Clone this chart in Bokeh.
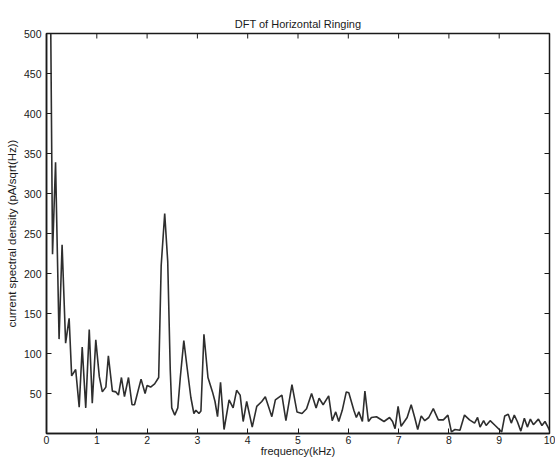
import math
from bokeh.plotting import figure
from bokeh.models import Range1d, FixedTicker
from bokeh.embed import file_html
from bokeh.resources import INLINE

# frequency (kHz) and current spectral density (pA/sqrt(Hz))
freq = [0.0, 0.06, 0.12, 0.18, 0.25, 0.31, 0.38, 0.45, 0.50, 0.58, 0.65, 0.71, 0.78,
        0.85, 0.91, 0.98, 1.05, 1.11, 1.18, 1.23, 1.31, 1.38, 1.43, 1.49, 1.55, 1.63,
        1.70, 1.75, 1.88, 1.96, 2.00, 2.07, 2.15, 2.23, 2.28, 2.35, 2.41, 2.46, 2.49,
        2.55, 2.61, 2.66, 2.73, 2.80, 2.87, 2.93, 2.97, 3.03, 3.07, 3.13, 3.21, 3.30,
        3.35, 3.40, 3.46, 3.53, 3.63, 3.71, 3.78, 3.85, 3.91, 3.98, 4.09, 4.18, 4.28,
        4.35, 4.48, 4.55, 4.68, 4.76, 4.88, 4.98, 5.08, 5.17, 5.27, 5.36, 5.42, 5.50,
        5.61, 5.68, 5.75, 5.81, 5.88, 5.96, 6.01, 6.11, 6.16, 6.21, 6.28, 6.33, 6.40,
        6.46, 6.56, 6.71, 6.82, 6.88, 6.93, 6.99, 7.05, 7.17, 7.25, 7.32, 7.38, 7.45,
        7.52, 7.60, 7.69, 7.79, 7.89, 7.98, 8.05, 8.12, 8.22, 8.31, 8.41, 8.51, 8.57,
        8.62, 8.69, 8.74, 8.82, 8.92, 9.05, 9.11, 9.18, 9.24, 9.30, 9.36, 9.43, 9.50,
        9.56, 9.62, 9.68, 9.78, 9.85, 9.91, 9.97, 10.0]
density = [560, 700, 224, 339, 118, 236, 113, 144, 72, 80, 33, 108, 32,
           130, 38, 117, 71, 52, 58, 97, 53, 52, 48, 70, 46, 70,
           36, 36, 68, 50, 60, 58, 62, 70, 210, 275, 215, 80, 32,
           23, 32, 70, 116, 80, 45, 25, 29, 25, 28, 124, 70, 52,
           40, 21, 64, 5, 42, 32, 54, 48, 15, 40, 8, 34, 40,
           46, 21, 42, 48, 16, 61, 27, 25, 31, 50, 32, 44, 36,
           47, 16, 27, 15, 29, 52, 51, 29, 20, 27, 15, 53, 15,
           20, 21, 15, 20, 15, 6, 34, 9, 20, 36, 20, 5, 22,
           16, 20, 31, 17, 17, 23, 2, 5, 4, 23, 17, 13, 20,
           8, 16, 10, 16, 10, 2, 22, 24, 13, 23, 15, 3, 19,
           8, 18, 11, 18, 10, 15, 8, 4]

x_ticks = [0, 1, 2, 3, 4, 5, 6, 7, 8, 9, 10]
y_ticks = [50, 100, 150, 200, 250, 300, 350, 400, 450, 500]
x_min, x_max = 0, 10
y_min, y_max = 0, 500

FONT = "Liberation Sans"
INK = "#1a1a1a"

p = figure(width=555, height=459, x_range=Range1d(x_min, x_max), y_range=Range1d(y_min, y_max),
           output_backend="svg", toolbar_location=None,
           min_border_left=46, min_border_right=6, min_border_top=33, min_border_bottom=26)

p.title.text = "DFT of Horizontal Ringing"
p.title.align = "center"
p.title.text_font = FONT
p.title.text_font_size = "11px"
p.title.text_font_style = "normal"
p.title.text_color = INK
p.title.standoff = 8

p.grid.visible = False
p.outline_line_color = INK
p.outline_line_width = 1.5
p.background_fill_color = "white"
p.border_fill_color = "white"

for ax, tk in ((p.xaxis[0], x_ticks), (p.yaxis[0], y_ticks)):
    ax.ticker = FixedTicker(ticks=tk)
    ax.major_tick_in = 5
    ax.major_tick_out = 0
    ax.minor_tick_line_color = None
    ax.axis_line_color = INK
    ax.axis_line_width = 1.5
    ax.major_tick_line_color = INK
    ax.major_label_text_font = FONT
    ax.major_label_text_font_size = "10.5px"
    ax.major_label_text_color = INK
    ax.axis_label_text_font = FONT
    ax.axis_label_text_font_style = "normal"
    ax.axis_label_text_color = INK

p.xaxis.axis_label = "frequency(kHz)"
p.xaxis.axis_label_text_font_size = "11px"
p.xaxis.major_label_standoff = 2
p.xaxis.axis_label_standoff = -2
p.yaxis.axis_label = "current spectral density (pA/sqrt(Hz))"
p.yaxis.axis_label_text_font_size = "11.5px"
p.yaxis.major_label_standoff = 5
p.yaxis.axis_label_standoff = 3

# inward tick marks on the top and right edges of the box (half of each dash is clipped)
p.scatter(x=x_ticks, y=[y_max] * len(x_ticks), marker="dash", angle=math.pi / 2,
          size=10, line_color=INK, line_width=1)
p.scatter(x=[x_max] * len(y_ticks), y=y_ticks, marker="dash", angle=0,
          size=10, line_color=INK, line_width=1)

p.line(freq, density, line_color="#2e2e2e", line_width=1.6)

open("out.html", "w").write(file_html(p, INLINE))
